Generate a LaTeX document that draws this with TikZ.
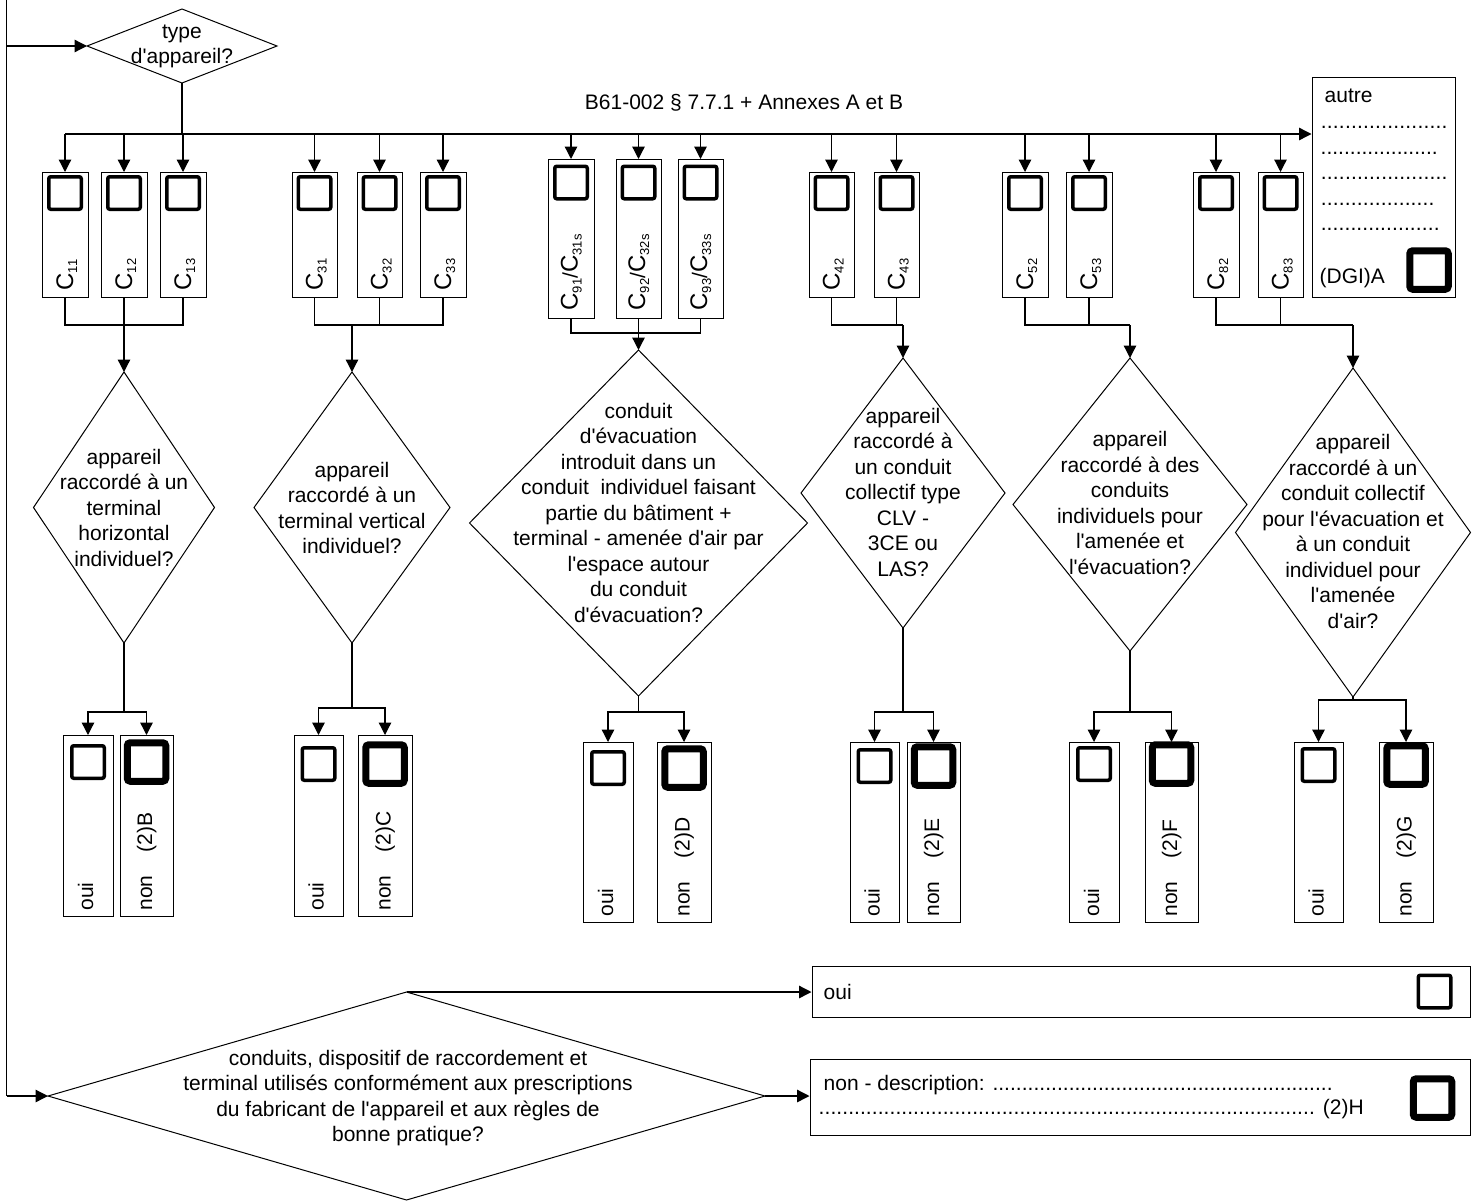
\documentclass[tikz,border=0pt]{standalone}
\usepackage{fontspec}
\newfontfamily\arial{Liberation Sans}
\usetikzlibrary{arrows.meta,shapes.geometric}
\newcommand\dotrow[1]{\hbox to #1{\xleaders\hbox to 5.84pt{\hss.\hss}\hfill}}
\newcommand\Cs[1]{{\fontsize{24}{24}\selectfont C}\raisebox{-4pt}{\fontsize{13}{13}\selectfont #1}}
\begin{document}
\begin{tikzpicture}[x=1pt,y=-1pt,
  font=\arial\fontsize{21}{25.5}\selectfont,
  line width=1.3pt,
  arr/.style={-{Triangle[length=12.5pt,width=12.5pt]}},
  dia/.style={draw, shape=diamond, inner sep=0pt, outer sep=0pt, line width=1pt},
  dtxt/.style={align=center, inner sep=0pt},
  cbox/.style={draw, line width=1pt, minimum width=46pt, minimum height=125pt, inner sep=0pt, outer sep=0pt},
  tbox/.style={draw, line width=1pt, minimum width=46pt, minimum height=159pt, inner sep=0pt, outer sep=0pt},
  obox/.style={draw, line width=1pt, minimum height=181pt, inner sep=0pt, outer sep=0pt},
  chk/.style={draw, line width=3.5pt, rounded corners=2pt, minimum size=32.5pt, inner sep=0pt, outer sep=0pt},
  thk/.style={draw, line width=7pt, rounded corners=3pt, minimum size=38.5pt, inner sep=0pt, outer sep=0pt},
  rlab/.style={rotate=90, anchor=base west, inner sep=0pt},
  plain/.style={inner sep=0pt}
]
\useasboundingbox (0,0) rectangle (1483,1202);

% top decision
\node[dia, minimum width=190pt, minimum height=74pt] (top) at (182,46) {};
\node[dtxt] (toptxt) at (182,46.5) {type\\d'appareil?};

% left incoming line
\coordinate (lt) at (6.5,0);
\coordinate (lb) at (6.5,1096);
\draw (lt) -- (lb);
\draw[arr] (lt |- top.west) -- (top.west);

% bus
\coordinate (bus) at (182,134);
\coordinate (busL) at (65,134);
\draw (top.south) -- (bus);
\node[plain] (buslab) at (744,103) {B61-002 § 7.7.1 + Annexes A et B};

% autre box
\node[draw, line width=1pt, minimum width=143pt, minimum height=220pt, inner sep=0pt] (autre) at (1383.5,187) {};
\draw[arr] (busL) -- (busL -| autre.west);
\node[plain, anchor=base west] (autretxt) at (1324,102) {autre};
\node[plain, anchor=base west] (dr1) at (1320,128) {\dotrow{127pt}};
\node[plain, anchor=base west] (dr2) at (1320,154) {\dotrow{117pt}};
\node[plain, anchor=base west] (dr3) at (1320,179) {\dotrow{127pt}};
\node[plain, anchor=base west] (dr4) at (1320,205) {\dotrow{114pt}};
\node[plain, anchor=base west] (dr5) at (1320,230) {\dotrow{119pt}};
\node[plain, anchor=base west] (dgi) at (1319,283) {(DGI)A};
\node[thk] (kA) at (1429,270) {};

% C boxes
\node[cbox] (c11) at (65,234.5) {};
\node[cbox] (c12) at (124,234.5) {};
\node[cbox] (c13) at (183,234.5) {};
\node[cbox, minimum width=45pt] (c31) at (314.5,234.5) {};
\node[cbox, minimum width=45pt] (c32) at (379.5,234.5) {};
\node[cbox] (c33) at (443,234.5) {};
\node[tbox] (c91) at (571,238.5) {};
\node[tbox, minimum width=45pt] (c92) at (638.5,238.5) {};
\node[tbox, minimum width=45pt] (c93) at (700.5,238.5) {};
\node[cbox, minimum width=45pt] (c42) at (831.5,234.5) {};
\node[cbox, minimum width=45pt] (c43) at (896.5,234.5) {};
\node[cbox] (c52) at (1025,234.5) {};
\node[cbox] (c53) at (1089,234.5) {};
\node[cbox] (c82) at (1216,234.5) {};
\node[cbox, minimum width=45pt] (c83) at (1280.5,234.5) {};

\foreach \c in {c11,c12,c13,c31,c32,c33,c42,c43,c52,c53,c82,c83}{
  \draw[arr] (\c.north |- busL) -- (\c.north);
  \node[chk] at ([yshift=-21pt]\c.north) {};
}
\foreach \c in {c91,c92,c93}{
  \draw[arr] (\c.north |- busL) -- (\c.north);
  \node[chk] at ([yshift=-23.5pt]\c.north) {};
}

\node[rlab] (l11) at ([xshift=8pt,yshift=6pt]c11.south) {\Cs{11}};
\node[rlab] (l12) at ([xshift=8pt,yshift=6pt]c12.south) {\Cs{12}};
\node[rlab] (l13) at ([xshift=8pt,yshift=6pt]c13.south) {\Cs{13}};
\node[rlab] (l31) at ([xshift=8pt,yshift=6pt]c31.south) {\Cs{31}};
\node[rlab] (l32) at ([xshift=8pt,yshift=6pt]c32.south) {\Cs{32}};
\node[rlab] (l33) at ([xshift=8pt,yshift=6pt]c33.south) {\Cs{33}};
\node[rlab] (l91) at ([xshift=6.5pt,yshift=7pt]c91.south) {\Cs{91}/\Cs{31s}};
\node[rlab] (l92) at ([xshift=6.5pt,yshift=7pt]c92.south) {\Cs{92}/\Cs{32s}};
\node[rlab] (l93) at ([xshift=6.5pt,yshift=7pt]c93.south) {\Cs{93}/\Cs{33s}};
\node[rlab] (l42) at ([xshift=8pt,yshift=6pt]c42.south) {\Cs{42}};
\node[rlab] (l43) at ([xshift=8pt,yshift=6pt]c43.south) {\Cs{43}};
\node[rlab] (l52) at ([xshift=8pt,yshift=6pt]c52.south) {\Cs{52}};
\node[rlab] (l53) at ([xshift=8pt,yshift=6pt]c53.south) {\Cs{53}};
\node[rlab] (l82) at ([xshift=8pt,yshift=6pt]c82.south) {\Cs{82}};
\node[rlab] (l83) at ([xshift=8pt,yshift=6pt]c83.south) {\Cs{83}};

% diamonds
\node[dia, minimum width=181pt, minimum height=271pt] (d1) at (124,507.5) {};
\node[dia, minimum width=196pt, minimum height=271pt] (d2) at (352,507.5) {};
\node[dia, minimum width=338pt, minimum height=346pt] (d3) at (638.5,523) {};
\node[dia, minimum width=204pt, minimum height=270pt] (d4) at (903,493) {};
\node[dia, minimum width=234pt, minimum height=293pt] (d5) at (1130,504.5) {};
\node[dia, minimum width=235pt, minimum height=329pt] (d6) at (1353,532.5) {};

\node[dtxt] (t1) at (124,507.5) {appareil\\raccordé à un\\terminal\\horizontal\\individuel?};
\node[dtxt] (t2) at (352,508) {appareil\\raccordé à un\\terminal vertical\\individuel?};
\node[dtxt] (t3) at (638.5,512.5) {conduit\\d'évacuation\\introduit dans un\\conduit~ individuel faisant\\partie du bâtiment +\\terminal - amenée d'air par\\l'espace autour\\du conduit\\d'évacuation?};
\node[dtxt] (t4) at (903,492) {appareil\\raccordé à\\un conduit\\collectif type\\CLV -\\3CE ou\\LAS?};
\node[dtxt] (t5) at (1130,503) {appareil\\raccordé à des\\conduits\\individuels pour\\l'amenée et\\l'évacuation?};
\node[dtxt] (t6) at (1353,531.5) {appareil\\raccordé à un\\conduit collectif\\pour l'évacuation et\\à un conduit\\individuel pour\\l'amenée\\d'air?};

% joins under C boxes
\coordinate (j1) at (124,325);
\draw (c11.south) |- (c13.south |- j1) -- (c13.south);
\draw (c12.south) -- (j1);
\draw[arr] (j1) -- (d1.north);

\coordinate (j2) at (352,325);
\draw (c31.south) |- (c33.south |- j2) -- (c33.south);
\draw (c32.south) -- (c32.south |- j2);
\draw[arr] (j2) -- (d2.north);

\coordinate (j3) at (638.5,333);
\draw (c91.south) |- (c93.south |- j3) -- (c93.south);
\draw (c92.south) -- (j3);
\draw[arr] (j3) -- (d3.north);

\coordinate (j4) at (903,325);
\draw (c42.south) |- (j4);
\draw (c43.south) -- (c43.south |- j4);
\draw[arr] (j4) -- (d4.north);

\coordinate (j5) at (1130,325);
\draw (c52.south) |- (j5);
\draw (c53.south) -- (c53.south |- j5);
\draw[arr] (j5) -- (d5.north);

\coordinate (j6) at (1353,325);
\draw (c82.south) |- (j6);
\draw (c83.south) -- (c83.south |- j6);
\draw[arr] (j6) -- (d6.north);

% oui / non boxes
\node[obox, minimum width=50pt] (o1) at (88,825.5) {};
\node[obox, minimum width=53pt] (n1) at (146.5,825.5) {};
\node[obox, minimum width=49pt] (o2) at (318.5,825.5) {};
\node[obox, minimum width=54pt] (n2) at (385,825.5) {};
\node[obox, minimum width=50pt, minimum height=180pt] (o3) at (608,832) {};
\node[obox, minimum width=54pt, minimum height=180pt] (n3) at (684,832) {};
\node[obox, minimum width=49pt, minimum height=180pt] (o4) at (874.5,832) {};
\node[obox, minimum width=53pt, minimum height=180pt] (n4) at (933.5,832) {};
\node[obox, minimum width=50pt, minimum height=180pt] (o5) at (1094,832) {};
\node[obox, minimum width=53pt, minimum height=180pt] (n5) at (1171.5,832) {};
\node[obox, minimum width=49pt, minimum height=180pt] (o6) at (1318.5,832) {};
\node[obox, minimum width=54pt, minimum height=180pt] (n6) at (1406,832) {};

\node[chk] (ko1) at ([yshift=-27pt]o1.north) {};
\node[thk] (kn1) at ([yshift=-27pt]n1.north) {};
\node[chk] (ko2) at ([yshift=-29pt]o2.north) {};
\node[thk] (kn2) at ([yshift=-29pt]n2.north) {};
\node[chk] (ko3) at ([yshift=-26pt]o3.north) {};
\node[thk] (kn3) at ([yshift=-26pt]n3.north) {};
\node[chk] (ko4) at ([yshift=-24pt]o4.north) {};
\node[thk] (kn4) at ([yshift=-24pt]n4.north) {};
\node[chk] (ko5) at ([yshift=-22pt]o5.north) {};
\node[thk] (kn5) at ([yshift=-22pt]n5.north) {};
\node[chk] (ko6) at ([yshift=-23pt]o6.north) {};
\node[thk] (kn6) at ([yshift=-23pt]n6.north) {};

\node[rlab] at ([xshift=5pt,yshift=5pt]o1.south) {oui};
\node[rlab] at ([xshift=5.5pt,yshift=5pt]n1.south) {non\hspace{23pt}(2)B};
\node[rlab] at ([xshift=5pt,yshift=5pt]o2.south) {oui};
\node[rlab] at ([xshift=5.5pt,yshift=5pt]n2.south) {non\hspace{23pt}(2)C};
\node[rlab] at ([xshift=5pt,yshift=5pt]o3.south) {oui};
\node[rlab] at ([xshift=5.5pt,yshift=5pt]n3.south) {non\hspace{23pt}(2)D};
\node[rlab] at ([xshift=5pt,yshift=5pt]o4.south) {oui};
\node[rlab] at ([xshift=5.5pt,yshift=5pt]n4.south) {non\hspace{23pt}(2)E};
\node[rlab] at ([xshift=5pt,yshift=5pt]o5.south) {oui};
\node[rlab] at ([xshift=5.5pt,yshift=5pt]n5.south) {non\hspace{23pt}(2)F};
\node[rlab] at ([xshift=5pt,yshift=5pt]o6.south) {oui};
\node[rlab] at ([xshift=5.5pt,yshift=5pt]n6.south) {non\hspace{23pt}(2)G};

% forks below diamonds
\coordinate (f1) at (124,712);
\coordinate (f2) at (352,708);
\coordinate (f3) at (638.5,712);
\coordinate (f4) at (903,712);
\coordinate (f5) at (1130,712);
\coordinate (f6) at (1353,700);
\foreach \i in {1,...,6}{
  \draw (d\i.south) -- (f\i);
  \draw[arr] (f\i) -| (o\i.north);
  \draw[arr] (f\i) -| (n\i.north);
}

% bottom decision
\node[dia, minimum width=717pt, minimum height=208pt] (bd) at (406.5,1096) {};
\node[dtxt] (bdtxt) at (408,1098) {conduits, dispositif de raccordement et\\terminal utilisés conformément aux prescriptions\\du fabricant de l'appareil et aux règles de\\bonne pratique?};
\draw[arr] (lb) -- (bd.west);

\node[draw, line width=1pt, minimum width=658pt, minimum height=51pt, inner sep=0pt] (boui) at (1141,991.5) {};
\node[draw, line width=1pt, minimum width=660pt, minimum height=76pt, inner sep=0pt] (bnon) at (1140,1097) {};
\draw[arr] (bd.north) -- (bd.north -| boui.west);
\draw[arr] (bd.east) -- (bd.east -| bnon.west);

\node[plain, anchor=west] (ouitxt) at (823,992) {oui};
\node[chk] (kbo) at (1434.5,991.5) {};
\node[plain, anchor=west, align=left, font=\arial\fontsize{21}{23.5}\selectfont] (nontxt) at (818,1097) {\hspace{5pt}non - description: \dotrow{340pt}\\\dotrow{496pt}\hspace{8pt}(2)H};
\node[thk] (kbn) at (1432.5,1098) {};
\end{tikzpicture}
\end{document}
